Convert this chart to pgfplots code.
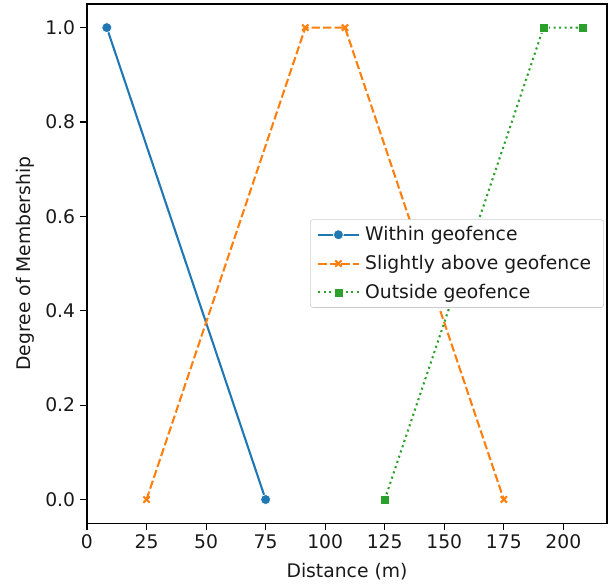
\documentclass[border=0pt]{standalone}
\usepackage{pgfplots}
\pgfplotsset{compat=1.18}
\usepackage{fontspec}
\setmainfont{DejaVu Sans}
\usetikzlibrary{calc}
\definecolor{tabblue}{HTML}{1F77B4}
\definecolor{taborange}{HTML}{FF7F0E}
\definecolor{tabgreen}{HTML}{2CA02C}
\begin{document}
\begin{tikzpicture}
\begin{axis}[
  scale only axis,
  width=374.4pt, height=373.7pt,
  xmin=0, xmax=218.33,
  ymin=-0.05, ymax=1.05,
  xtick={0,25,50,75,100,125,150,175,200},
  ytick={0,0.2,0.4,0.6,0.8,1.0},
  yticklabel style={/pgf/number format/.cd,fixed,fixed zerofill,precision=1},
  /pgf/number format/assume math mode=true,
  tick label style={font=\fontsize{13.5}{16}\selectfont, text=black!90},
  xlabel={Distance (m)},
  ylabel={Degree of Membership},
  every axis y label/.style={at={(axis description cs:-0.119,0.5)}, rotate=90, anchor=center, font=\fontsize{13.5}{16}\selectfont, text=black!90},
  every axis x label/.style={at={(axis description cs:0.5,-0.0926)}, anchor=center, font=\fontsize{13.5}{16}\selectfont, text=black!90},
  tick align=outside,
  xtick pos=left, ytick pos=left,
  major tick length=5pt,
  every tick/.style={black, line width=0.8pt},
  axis line style={line width=0.8pt, black},
  legend style={at={(0.994,0.5)}, anchor=east, draw=black!20, rounded corners=2pt,
    font=\fontsize{13.5}{16}\selectfont, text=black!90, row sep=5pt, inner xsep=5pt, inner ysep=3pt,
    nodes={inner xsep=4pt}},
  legend cell align=left,
  legend image code/.code={
    \draw[mark repeat=2,mark phase=2] plot coordinates {(0cm,0cm) (14.5pt,0cm) (29pt,0cm)};
  },
]
\addplot[tabblue, line width=1.5pt, mark=*, mark size=3.6pt, mark options={solid, draw=white, line width=0.5pt, fill=tabblue}]
  coordinates {(8.33,1) (75,0)};
\addlegendentry{Within geofence}
\addplot[taborange, line width=1.5pt, dash pattern=on 6pt off 2.25pt, mark=x, mark size=3.2pt, mark options={solid, line width=1.5pt}]
  coordinates {(25,0) (91.67,1) (108.33,1) (175,0)};
\addlegendentry{Slightly above geofence}
\addplot[tabgreen, line width=1.5pt, dash pattern=on 1.5pt off 2.475pt, mark=square*, mark size=3.2pt, mark options={solid, draw=white, line width=0.5pt, fill=tabgreen}]
  coordinates {(125,0) (191.67,1) (208.33,1)};
\addlegendentry{Outside geofence}
\end{axis}
\pgfresetboundingbox
\path[use as bounding box] ($(current axis.south west)+(-62.6pt,-45.4pt)$) rectangle ($(current axis.north east)+(0.7pt,2.9pt)$);
\end{tikzpicture}
\end{document}
